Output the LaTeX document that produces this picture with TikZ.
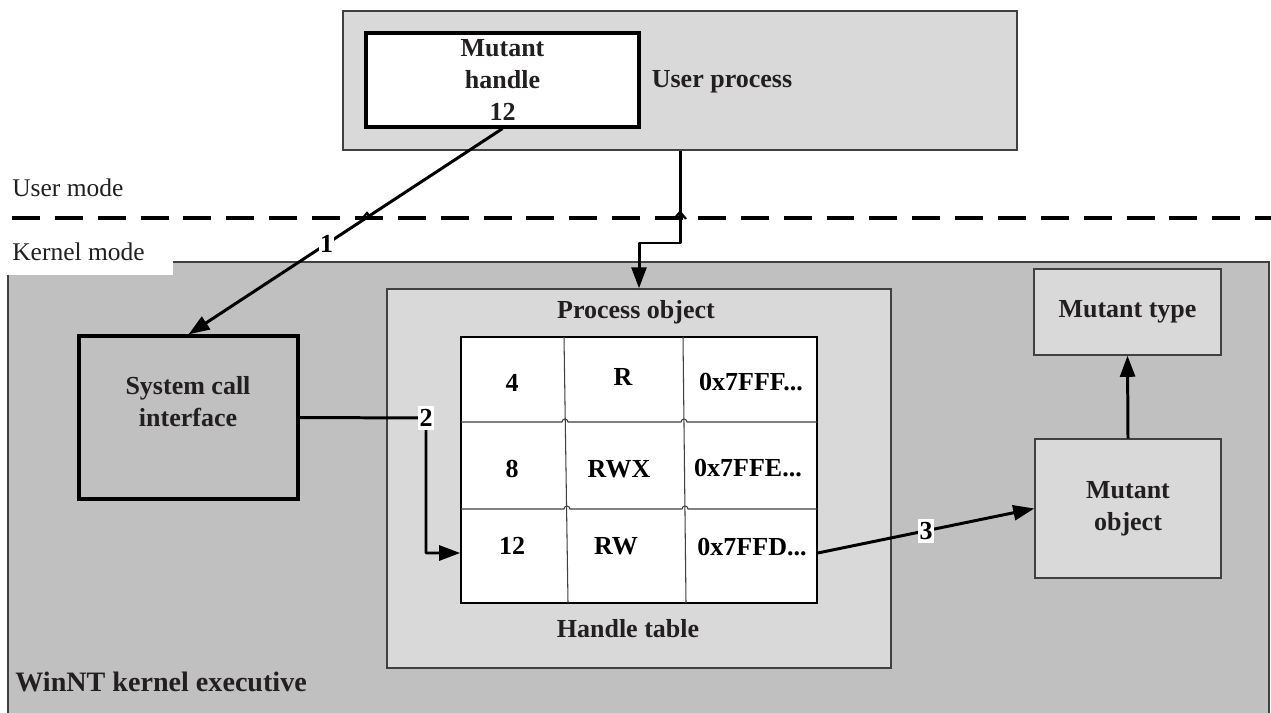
\documentclass[tikz,border=0pt]{standalone}
\usepackage{fontspec}
\setmainfont{Liberation Serif}
\usetikzlibrary{arrows.meta}
\definecolor{paleg}{HTML}{D9D9D9}
\definecolor{midg}{HTML}{C0C0C0}
\definecolor{edge}{HTML}{404040}
\definecolor{ink}{HTML}{231F20}

\begin{document}
\begin{tikzpicture}[x=0.02cm,y=-0.02cm,
  every node/.style={font=\fontsize{14.8pt}{18.2pt}\selectfont\bfseries, text=ink, inner sep=0pt},
  panel/.style={draw=edge, line width=0.8pt, fill=paleg},
  heavybox/.style={draw=black, line width=1.8pt},
  flow/.style={draw=black, line width=1.7pt, line join=round, -{Triangle[length=12pt,width=8.5pt]}},
  tag/.style={fill=white, inner xsep=0.6pt, inner ysep=2pt, text=black},
  plain/.style={font=\fontsize{14.5pt}{17pt}\selectfont},
  grid/.style={draw=edge, line width=0.6pt},
  celltext/.style={text=black},
]
\useasboundingbox (0,0) rectangle (1271,713);

% kernel area with the notch for its caption
\fill[midg] (8,713) -- (8,275) -- (173,275) -- (173,262) -- (1269,262) -- (1269,713) -- cycle;
\draw[edge, line width=0.8pt] (8,713) -- (8,275);
\draw[edge, line width=0.8pt] (173,262) -- (1269,262) -- (1269,713);

% user / kernel boundary
\draw[line width=1.9pt, dash pattern=on 15.9pt off 8.5pt] (12,218) -- (1271,218);
\node[plain, anchor=west] (umode) at (12,188) {User mode};
\node[plain, anchor=west] (kmode) at (12,252) {Kernel mode};

% user process
\node[panel, minimum width=13.48cm, minimum height=2.78cm] (userproc) at (680,80.5) {};
\node[heavybox, fill=white, minimum width=5.46cm, minimum height=1.88cm, align=center] (handle) at (502.5,80) {Mutant\\handle\\12};
\node (uptext) at (722,82) {User process};

% system call interface
\node[heavybox, fill=midg, minimum width=4.38cm, minimum height=3.26cm] (syscall) at (188.5,417.5) {};
\node[align=center] (sctext) at (188,402) {System call\\interface};

% process object and handle table
\node[panel, minimum width=10.08cm, minimum height=7.58cm] (procobj) at (639,478.5) {};
\node (potext) at (636,312) {Process object};
\node (httext) at (628,629) {Handle table};
\node[draw=black, line width=0.9pt, fill=white, minimum width=7.12cm, minimum height=5.32cm] (table) at (639,470) {};
\draw[grid] (564,337) -- (568,603);
\draw[grid] (683,337) -- (686,603);
\draw[grid] (461,422) -- (562,422) arc[start angle=180,end angle=0,radius=0.06cm] -- (681,422) arc[start angle=180,end angle=0,radius=0.06cm] -- (817,422);
\draw[grid] (461,509) -- (564,509) arc[start angle=180,end angle=0,radius=0.06cm] -- (682,509) arc[start angle=180,end angle=0,radius=0.06cm] -- (817,509);
\node[celltext] (c11) at (512,383) {4};
\node[celltext] (c12) at (623,377) {R};
\node[celltext] (c13) at (751,382) {0x7FFF...};
\node[celltext] (c21) at (512,469) {8};
\node[celltext] (c22) at (619,469) {RWX};
\node[celltext] (c23) at (748,468) {0x7FFE...};
\node[celltext] (c31) at (512,546) {12};
\node[celltext] (c32) at (616,546) {RW};
\node[celltext] (c33) at (752,547) {0x7FFD...};

% mutant object and type
\node[panel, minimum width=3.74cm, minimum height=1.72cm] (mtype) at (1127.5,312) {Mutant type};
\node[panel, minimum width=3.72cm, minimum height=2.78cm, align=center] (mobj) at (1128,508.5) {Mutant\\object};

% WinNT caption
\node[anchor=west, font=\fontsize{16pt}{19pt}\selectfont\bfseries] (winnt) at (15,682) {WinNT kernel executive};

% connectors
\draw[flow] (handle.south) -- node[tag, pos=0.56] (n1) {1} (syscall.north);

\coordinate (jog) at (660,243);
\draw[flow] (userproc.south) |- (jog) -| (procobj.north);

\coordinate (bend2) at (426,418);
\coordinate (turn2) at (426,553);
\draw[flow] (syscall.east) -- (bend2) -- (turn2) -- (table.west |- turn2);
\node[tag] (n2) at (bend2) {2};

\draw[flow] (table.east |- turn2) -- node[tag, pos=0.5] (n3) {3} (mobj.west);
\draw[flow] (mobj.north) -- (mtype.south);

% hops of the boundary line over the crossing connectors
\draw[line width=1.3pt] (674,219) -- (680,212) -- (686,219);
\draw[line width=1.3pt] (362,219) -- (367,213) -- (372,219);
\end{tikzpicture}
\end{document}
